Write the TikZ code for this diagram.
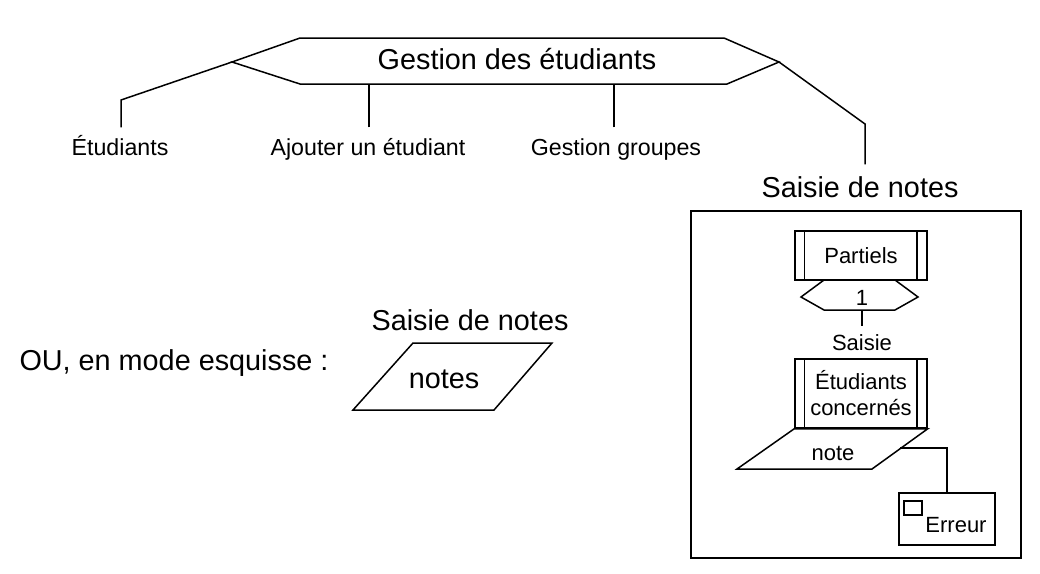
\documentclass[tikz,border=0pt]{standalone}
\usepackage{fontspec}
\setmainfont{Liberation Sans}
\begin{document}
\begin{tikzpicture}[x=1pt, y=-1pt, line width=1.5pt,
    big/.style={font=\fontsize{28.8}{32}\selectfont, inner sep=0pt, anchor=base},
    small/.style={font=\fontsize{22}{26}\selectfont, inner sep=0pt, anchor=base},
    child/.style={font=\fontsize{23.2}{27}\selectfont, inner sep=0pt, anchor=base,
        text height=17pt, inner ysep=10pt},
    procbox/.style={draw, font=\fontsize{22}{26}\selectfont, align=center,
        minimum width=132pt, inner sep=0pt}]
    \useasboundingbox (0,0) rectangle (1040,573);
    % menu principal
    \coordinate (gl) at (232,62);
    \coordinate (gr) at (779,62);
    \coordinate (gbl) at (300,84);
    \coordinate (gbr) at (727,84);
    \draw (gl) -- (300,38) -- (724,38) -- (gr) -- (gbr) -- (gbl) -- cycle;
    \node[big] (gestion) at (517,69) {Gestion des étudiants};
    \node[child] (etud) at (120,155) {Étudiants};
    \node[child] (ajout) at (368,155) {Ajouter un étudiant};
    \node[child] (groupes) at (616,155) {Gestion groupes};
    \node[big, text height=22pt, inner ysep=10pt] (saisie) at (860,197) {Saisie de notes};
    \coordinate (ek) at (121,100);
    \coordinate (sk) at (865,124);
    \draw (gl) -- (ek) -- (ek |- etud.north);
    \draw ([xshift=1pt]ajout.north) -- ([xshift=1pt]ajout.north |- gbl);
    \draw ([xshift=-2pt]groupes.north) -- ([xshift=-2pt]groupes.north |- gbl);
    \draw (gr) -- (sk) -- (sk |- saisie.north);
    % ecran de saisie
    \draw (691,211) rectangle (1021,558);
    \node[procbox, minimum height=49pt] (partiels) at (861,255.5) {Partiels};
    \node[procbox, minimum height=69pt] (concernes) at (861,393.5) {Étudiants\\concernés};
    \foreach \n in {partiels,concernes} {
        \draw ([xshift=10pt]\n.north west) -- ([xshift=10pt]\n.south west);
        \draw ([xshift=-11pt]\n.north east) -- ([xshift=-11pt]\n.south east);
    }
    \draw (801,297) -- (824,280) -- (895,280) -- (918,297) -- (895,310) -- (824,310) -- cycle;
    \node[small] (un) at (862,305) {1};
    \coordinate (unbot) at (862,310);
    \node[small, text height=17pt, inner ysep=6pt] (saisieact) at (862,350) {Saisie};
    \draw (unbot) -- (saisieact.north);
    \draw (concernes.south west) -- (concernes.south east) -- (872,469) -- (737,469) -- cycle;
    \node[small] (note) at (833,460) {note};
    \coordinate (nr) at (900,448);
    \node[draw, minimum width=96pt, minimum height=52pt, inner sep=0pt] (erreur) at (947,519) {};
    \node[small] (erreurtxt) at (956,532) {Erreur};
    \draw (904,501) rectangle (922,515);
    \draw (nr) -| (erreur.north);
    % variante esquisse
    \node[big] (ou) at (174,370) {OU, en mode esquisse :};
    \node[big] (titre) at (470,330) {Saisie de notes};
    \draw (413,343) -- (552,343) -- (494,410) -- (353,410) -- cycle;
    \node[big] (notes) at (444,388) {notes};
\end{tikzpicture}
\end{document}
